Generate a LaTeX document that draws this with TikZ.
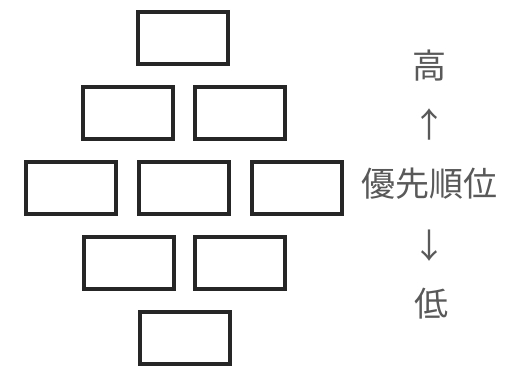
\documentclass[tikz,border=0pt]{standalone}
\usepackage{fontspec}
\newfontfamily\cjk{Noto Sans CJK JP}
\begin{document}
\begin{tikzpicture}[x=1pt,y=-1pt,
  brick/.style={draw=black!85, line width=3.8pt, minimum width=90pt, minimum height=52pt, inner sep=0pt},
  lbl/.style={text=black!65, font=\cjk\fontsize{34}{36}\selectfont, inner sep=0pt}]
\useasboundingbox[fill=white] (0,0) rectangle (511,371);
\node[brick] (r1) at (183,38) {};
\node[brick] (r2a) at (128,113) {};
\node[brick] (r2b) at (240,113) {};
\node[brick] (r3a) at (71,188) {};
\node[brick] (r3b) at (184,188) {};
\node[brick] (r3c) at (297,188) {};
\node[brick] (r4a) at (129,263) {};
\node[brick] (r4b) at (240,263) {};
\node[brick] (r5) at (185,338) {};
\node[lbl] (hi) at (429,66) {高};
\node[lbl] (up) at (429,124) {↑};
\node[lbl] (prio) at (429,184) {優先順位};
\node[lbl] (down) at (429,246) {↓};
\node[lbl] (lo) at (431,304) {低};
\end{tikzpicture}
\end{document}
